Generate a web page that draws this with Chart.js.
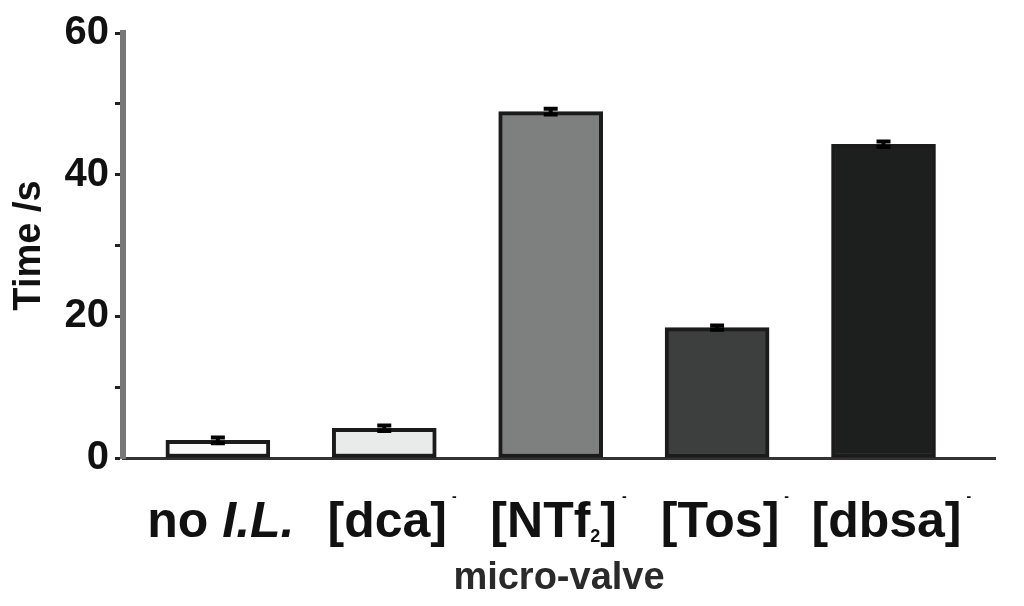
<!DOCTYPE html>
<html>
<head>
<meta charset="utf-8">
<script src="https://cdn.jsdelivr.net/npm/chart.js@4.4.1/dist/chart.umd.min.js"></script>
<style>
    html, body { margin: 0; padding: 0; background: #fff; }
    #wadah { width: 1024px; height: 606px; }
</style>
</head>
<body>
<div id="wadah"><canvas id="grafik"></canvas></div>
<script>
// kategori: potongan teks (miring / superskrip / subskrip)
const kategori = [
    [{ t: 'no ' }, { t: 'I.L.', italic: true }],
    [{ t: '[dca]' }, { t: '-', sup: true }],
    [{ t: '[NTf' }, { t: '2', sub: true }, { t: ']' }, { t: '-', sup: true }],
    [{ t: '[Tos]' }, { t: '-', sup: true }],
    [{ t: '[dbsa]' }, { t: '-', sup: true }]
];
const posisi = [1, 2, 3, 4, 5];
const waktu = [2.5, 4.2, 48.9, 18.4, 44.3];
const galat = [0.4, 0.4, 0.4, 0.3, 0.4];
const warnaBatang = ['#fbfbfb', '#e9eaea', '#7e8080', '#3d3e3e', '#1d1f1f'];
const tickY = [0, 10, 20, 30, 40, 50, 60];
const labelY = ['0', '', '20', '', '40', '', '60'];
const judulY = 'Time /s';
const judulX = 'micro-valve';

const FONT = 'Liberation Sans';

const errorBars = {
    id: 'errorBars',
    afterDatasetsDraw(chart) {
        const ctx = chart.ctx;
        const y = chart.scales.y;
        chart.getDatasetMeta(0).data.forEach((bar, i) => {
            const atas = y.getPixelForValue(waktu[i] + galat[i]);
            const bawah = y.getPixelForValue(waktu[i] - galat[i]);
            ctx.save();
            ctx.strokeStyle = '#000';
            ctx.lineWidth = 4;
            ctx.beginPath();
            ctx.moveTo(bar.x, atas); ctx.lineTo(bar.x, bawah);
            ctx.moveTo(bar.x - 7, atas); ctx.lineTo(bar.x + 7, atas);
            ctx.moveTo(bar.x - 7, bawah); ctx.lineTo(bar.x + 7, bawah);
            ctx.stroke();
            ctx.restore();
        });
    }
};

function fontPotongan(p) {
    if (p.sup) return `bold 14px "${FONT}"`;
    if (p.sub) return `bold 18px "${FONT}"`;
    if (p.italic) return `italic bold 50px "${FONT}"`;
    return `bold 50px "${FONT}"`;
}

const labelKategori = {
    id: 'labelKategori',
    afterDraw(chart) {
        const ctx = chart.ctx;
        const sx = chart.scales.x;
        const dasar = chart.chartArea.bottom + 79;
        ctx.save();
        ctx.fillStyle = '#111';
        ctx.textBaseline = 'alphabetic';
        ctx.textAlign = 'left';
        kategori.forEach((potongan, i) => {
            const lebar = potongan.map(p => {
                ctx.font = fontPotongan(p);
                return ctx.measureText(p.t).width + (p.sup ? 5 : 0);
            });
            // superskrip tidak ikut dihitung saat memusatkan label
            const total = lebar.reduce((a, b, j) => a + (potongan[j].sup ? 0 : b), 0);
            let x = sx.getPixelForValue(posisi[i]) - total / 2 + 3;
            potongan.forEach((p, j) => {
                ctx.font = fontPotongan(p);
                let y = dasar;
                if (p.sup) y = dasar - 36;
                if (p.sub) y = dasar + 5;
                ctx.fillText(p.t, x + (p.sup ? 5 : 0), y);
                x += lebar[j];
            });
        });
        ctx.restore();
    }
};

new Chart(document.getElementById('grafik'), {
    type: 'bar',
    data: {
        datasets: [{
            data: posisi.map((p, i) => ({ x: p, y: waktu[i] })),
            backgroundColor: warnaBatang,
            borderColor: '#1b1b1b',
            borderWidth: 4,
            borderSkipped: false,
            barThickness: 104
        }]
    },
    options: {
        responsive: true,
        maintainAspectRatio: false,
        animation: false,
        layout: { padding: { top: 33, right: 29, bottom: 0, left: 0 } },
        plugins: {
            legend: { display: false },
            tooltip: { enabled: false }
        },
        scales: {
            x: {
                type: 'linear',
                min: 0.43,
                max: 5.67,
                offset: false,
                grid: { display: true, drawOnChartArea: false, drawTicks: false },
                border: { color: '#333', width: 3 },
                ticks: { display: false },
                title: {
                    display: true,
                    text: judulX,
                    color: '#2a2a2a',
                    font: { family: FONT, size: 38, weight: 'bold' },
                    padding: { top: 0, bottom: 5 }
                },
                afterFit(s) { s.height = 148; }
            },
            y: {
                min: 0,
                max: 60,
                ticks: {
                    stepSize: 10,
                    callback: (v) => labelY[tickY.indexOf(v)],
                    color: '#111',
                    padding: 6,
                    font: { family: FONT, size: 40, weight: 'bold' }
                },
                grid: { drawOnChartArea: false, tickLength: 8, tickWidth: 3, tickColor: '#222' },
                border: { color: '#777', width: 6 },
                title: {
                    display: true,
                    text: judulY,
                    color: '#111',
                    font: { family: FONT, size: 38, weight: 'bold' },
                    padding: { top: 7, bottom: 0 }
                },
                afterFit(s) { s.width = 123; }
            }
        }
    },
    plugins: [errorBars, labelKategori]
});
</script>
</body>
</html>
